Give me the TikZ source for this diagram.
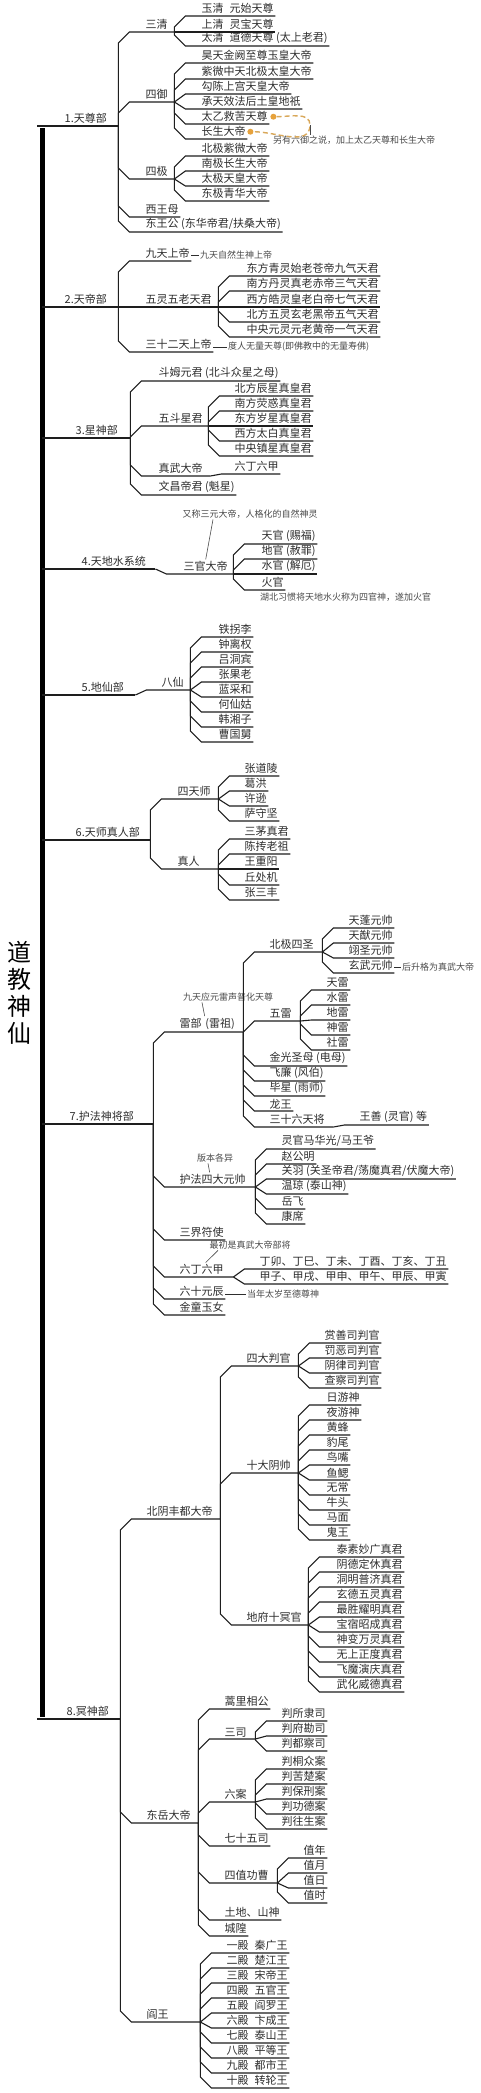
\documentclass[tikz,border=0pt]{standalone}
\usepackage{fontspec}
\setmainfont{Noto Sans CJK SC}
\usepackage{tikz}
\usetikzlibrary{calc}
\definecolor{InkGray}{HTML}{2E2E2E}
\definecolor{LineDark}{HTML}{1E1E1E}
\definecolor{NoteGray}{HTML}{4A4A4A}
\definecolor{DotOrange}{HTML}{E6A23C}
\definecolor{DashGold}{HTML}{D9A85A}

\begin{document}
\begin{tikzpicture}[x=1pt,y=-1pt,
item/.style={anchor=south west,inner xsep=1.5pt,inner ysep=2pt,font=\fontsize{11}{12}\selectfont,text=InkGray},
head/.style={item,text width=#1,align=left},
note/.style={inner sep=1pt,font=\fontsize{9}{10}\selectfont,text=NoteGray},
title/.style={align=center,inner sep=0pt,font=\fontsize{24}{27}\selectfont},
dot/.style={circle,fill=DotOrange,inner sep=0pt,minimum size=6pt},
link/.style={draw=LineDark,line width=1.1pt,to path={let \p1=(\tikztostart),\p2=(\tikztotarget),\n1={min(11,abs((\y2)-(\y1)))},\n2={(\y2)-sign((\y2)-(\y1))*\n1} in -- (\x1,{\n2*1pt}) -- ({\x1+11pt},\y2) -- (\tikztotarget)}},
pointer/.style={draw=NoteGray,line width=0.6pt},
dashlink/.style={draw=InkGray,line width=0.8pt},
goldline/.style={draw=DashGold,line width=1.4pt,dash pattern=on 5pt off 3pt},
spine/.style={draw=black,line width=4.5pt}
]
\path[use as bounding box,fill=white] (0,0) rectangle (480,2093);

% root and spine
\node[title] (root) at (20,993) {道\\教\\神\\仙};
\coordinate (top) at (42.5,128);
\coordinate (bot) at (42.5,1717);
\draw[spine] (top) -- (bot);
\coordinate (s1) at (37,126);
\coordinate (s2) at (42,307);
\coordinate (s3) at (42,438);
\coordinate (s4) at (42,569);
\coordinate (s5) at (42,695);
\coordinate (s6) at (42,840);
\coordinate (s7) at (42,1124);
\coordinate (s8) at (37,1719);

% 1
\node[head=52] (t1) at (63,126) {1.天尊部};
\node[head=27] (sq) at (144,32) {三清};
\node[item] (sq1) at (200,16) {玉清\hspace{6pt}元始天尊};
\node[item] (sq2) at (200,32) {上清\hspace{6pt}灵宝天尊};
\node[item] (sq3) at (200,46) {太清\hspace{6pt}道德天尊 (太上老君)};
\node[head=27] (sy) at (144,102) {四御};
\node[item] (sy1) at (200,63) {昊天金阙至尊玉皇大帝};
\node[item] (sy2) at (200,79) {紫微中天北极太皇大帝};
\node[item] (sy3) at (200,94) {勾陈上宫天皇大帝};
\node[item] (sy4) at (200,109) {承天效法后土皇地祇};
\node[item] (sy5) at (200,124) {太乙救苦天尊};
\node[item] (sy6) at (200,139) {长生大帝};
\node[dot] (d1) at ([xshift=4pt]sy5.east) {};
\node[dot] (d2) at ([xshift=3pt]sy6.east) {};
\coordinate (tip) at (310,125);
\node[note,anchor=west] (lyn) at (272,140) {另有六御之说，加上太乙天尊和长生大帝};
\node[head=27] (sj) at (144,179) {四极};
\node[item] (sj1) at (200,156) {北极紫微大帝};
\node[item] (sj2) at (200,171) {南极长生大帝};
\node[item] (sj3) at (200,186) {太极天皇大帝};
\node[item] (sj4) at (200,201) {东极青华大帝};
\node[item] (xwm) at (144,217) {西王母};
\node[item] (dwg) at (144,232) {东王公 (东华帝君/扶桑大帝)};
\draw[link] (s1) to (t1.south east);
\draw[link] (t1.south east) edge (sq.south east) edge (sy.south east) edge (sj.south east) edge (xwm.south east) edge (dwg.south east);
\draw[link] (sq.south east) edge (sq1.south east) edge (sq2.south east) edge (sq3.south east);
\draw[link] (sy.south east) edge (sy1.south east) edge (sy2.south east) edge (sy3.south east) edge (sy4.south east) edge (sy5.south east) edge (sy6.south east);
\draw[link] (sj.south east) edge (sj1.south east) edge (sj2.south east) edge (sj3.south east) edge (sj4.south east);
\draw[goldline] (d1) to[out=0,in=90] (tip) to[out=-90,in=0] (d2);
\draw[pointer] (tip) -- (tip |- lyn.north);

% 2
\node[head=52] (t2) at (63,307) {2.天帝部};
\node[item] (jt) at (144,261) {九天上帝};
\node[note,anchor=west] (jtn) at (199,255) {九天自然生神上帝};
\node[head=71] (wl) at (144,307) {五灵五老天君};
\node[item] (wl1) at (245,276) {东方青灵始老苍帝九气天君};
\node[item] (wl2) at (245,291) {南方丹灵真老赤帝三气天君};
\node[item] (wl3) at (245,307) {西方皓灵皇老白帝七气天君};
\node[item] (wl4) at (245,322) {北方五灵玄老黑帝五气天君};
\node[item] (wl5) at (245,337) {中央元灵元老黄帝一气天君};
\node[item] (s32) at (144,352) {三十二天上帝};
\node[note,anchor=west] (s32n) at (227,347) {度人无量天尊(即佛教中的无量寿佛)};
\draw[link] (s2) to (t2.south east);
\draw[link] (t2.south east) edge (jt.south east) edge (wl.south east) edge (s32.south east);
\draw[link] (wl.south east) edge (wl1.south east) edge (wl2.south east) edge (wl3.south east) edge (wl4.south east) edge (wl5.south east);
\draw[dashlink] (jt.south east |- jtn.west) -- (jtn.west);
\draw[dashlink] (s32.south east |- s32n.west) -- (s32n.west);

% 3
\node[head=53] (t3) at (74,438) {3.星神部};
\node[item] (dm) at (157,381) {斗姆元君 (北斗众星之母)};
\node[head=48] (wd) at (157,426) {五斗星君};
\node[item] (wd1) at (233,396) {北方辰星真皇君};
\node[item] (wd2) at (233,411) {南方荧惑真皇君};
\node[item] (wd3) at (233,426) {东方岁星真皇君};
\node[item] (wd4) at (233,441) {西方太白真皇君};
\node[item] (wd5) at (233,456) {中央镇星真皇君};
\node[head=50] (zw) at (157,476) {真武大帝};
\node[item] (zw1) at (233,474) {六丁六甲};
\node[item] (wc) at (157,495) {文昌帝君 (魁星)};
\draw[link] (s3) to (t3.south east);
\draw[link] (t3.south east) edge (dm.south east) edge (wd.south east) edge (zw.south east) edge (wc.south east);
\draw[link] (wd.south east) edge (wd1.south east) edge (wd2.south east) edge (wd3.south east) edge (wd4.south east) edge (wd5.south east);
\draw[link] (zw.south east) to (zw1.south east);

% 4
\node[note] (sgn) at (250,514) {又称三元大帝，人格化的自然神灵};
\node[head=72] (t4) at (80,569) {4.天地水系统};
\node[head=48] (sg) at (182,574) {三官大帝};
\node[item] (sg1) at (260,544) {天官 (赐福)};
\node[item] (sg2) at (260,559) {地官 (赦罪)};
\node[item] (sg3) at (260,574) {水官 (解厄)};
\node[item] (sg4) at (260,590) {火官};
\node[note,anchor=north west] (hbn) at (259,592) {湖北习惯将天地水火称为四官神，遂加火官};
\draw[link] (s4) to (t4.south east);
\draw[link] (t4.south east) to (sg.south east);
\draw[link] (sg.south east) edge (sg1.south east) edge (sg2.south east) edge (sg3.south east) edge (sg4.south east);
\draw[pointer] ([xshift=-37pt]sgn.south) -- ([xshift=-2pt]sg.north);

% 5
\node[head=52] (t5) at (80,695) {5.地仙部};
\node[head=27] (bx) at (160,690) {八仙};
\node[item] (bx1) at (217,637) {铁拐李};
\node[item] (bx2) at (217,652) {钟离权};
\node[item] (bx3) at (217,667) {吕洞宾};
\node[item] (bx4) at (217,682) {张果老};
\node[item] (bx5) at (217,697) {蓝采和};
\node[item] (bx6) at (217,712) {何仙姑};
\node[item] (bx7) at (217,727) {韩湘子};
\node[item] (bx8) at (217,742) {曹国舅};
\draw[link] (s5) to (t5.south east);
\draw[link] (t5.south east) to (bx.south east);
\draw[link] (bx.south east) edge (bx1.south east) edge (bx2.south east) edge (bx3.south east) edge (bx4.south east) edge (bx5.south east) edge (bx6.south east) edge (bx7.south east) edge (bx8.south east);

% 6
\node[head=73] (t6) at (74,840) {6.天师真人部};
\node[head=39] (st) at (176,799) {四天师};
\node[item] (st1) at (243,776) {张道陵};
\node[item] (st2) at (243,791) {葛洪};
\node[item] (st3) at (243,806) {许逊};
\node[item] (st4) at (243,821) {萨守坚};
\node[head=39] (zr) at (176,869) {真人};
\node[item] (zr1) at (243,839) {三茅真君};
\node[item] (zr2) at (243,854) {陈抟老祖};
\node[item] (zr3) at (243,869) {王重阳};
\node[item] (zr4) at (243,885) {丘处机};
\node[item] (zr5) at (243,900) {张三丰};
\draw[link] (s6) to (t6.south east);
\draw[link] (t6.south east) edge (st.south east) edge (zr.south east);
\draw[link] (st.south east) edge (st1.south east) edge (st2.south east) edge (st3.south east) edge (st4.south east);
\draw[link] (zr.south east) edge (zr1.south east) edge (zr2.south east) edge (zr3.south east) edge (zr4.south east) edge (zr5.south east);

% 7
\node[head=82] (t7) at (68,1124) {7.护法神将部};
\node[head=62] (lb) at (178,1032) {雷部 (雷祖)};
\node[note] (lbn) at (228,997) {九天应元雷声普化天尊};
\node[head=51] (bj) at (268,952) {北极四圣};
\node[item] (bj1) at (347,928) {天蓬元帅};
\node[item] (bj2) at (347,943) {天猷元帅};
\node[item] (bj3) at (347,958) {翊圣元帅};
\node[item] (bj4) at (347,973) {玄武元帅};
\node[note,anchor=west] (bjn) at (401,967) {后升格为真武大帝};
\node[head=29] (wlei) at (268,1021) {五雷};
\node[item] (wlei1) at (325,990) {天雷};
\node[item] (wlei2) at (325,1005) {水雷};
\node[item] (wlei3) at (325,1020) {地雷};
\node[item] (wlei4) at (325,1035) {神雷};
\node[item] (wlei5) at (325,1050) {社雷};
\node[item] (lb1) at (268,1066) {金光圣母 (电母)};
\node[item] (lb2) at (268,1081) {飞廉 (风伯)};
\node[item] (lb3) at (268,1096) {毕星 (雨师)};
\node[item] (lb4) at (268,1111) {龙王};
\node[head=62] (tj) at (268,1127) {三十六天将};
\node[item] (tj1) at (358,1125) {王善 (灵官) 等};
\node[note] (hfn) at (215,1158) {版本各异};
\node[head=74] (hf) at (178,1187) {护法四大元帅};
\node[item] (hf1) at (280,1149) {灵官马华光/马王爷};
\node[item] (hf2) at (280,1164) {赵公明};
\node[item] (hf3) at (280,1179) {关羽 (关圣帝君/荡魔真君/伏魔大帝)};
\node[item] (hf4) at (280,1194) {温琼 (泰山神)};
\node[item] (hf5) at (280,1209) {岳飞};
\node[item] (hf6) at (280,1224) {康席};
\node[item] (sjf) at (178,1240) {三界符使};
\node[note] (sjfn) at (250,1245) {最初是真武大帝部将};
\node[head=52] (ld) at (178,1277) {六丁六甲};
\node[item] (ld1) at (258,1269) {丁卯、丁巳、丁未、丁酉、丁亥、丁丑};
\node[item] (ld2) at (258,1284) {甲子、甲戌、甲申、甲午、甲辰、甲寅};
\node[item] (lsy) at (178,1299) {六十元辰};
\node[note,anchor=west] (lsyn) at (246,1294) {当年太岁至德尊神};
\node[item] (jtyn) at (178,1315) {金童玉女};
\draw[link] (s7) to (t7.south east);
\draw[link] (t7.south east) edge (lb.south east) edge (hf.south east) edge (sjf.south east) edge (ld.south east) edge (lsy.south east) edge (jtyn.south east);
\draw[link] (lb.south east) edge (bj.south east) edge (wlei.south east) edge (lb1.south east) edge (lb2.south east) edge (lb3.south east) edge (lb4.south east) edge (tj.south east);
\draw[link] (bj.south east) edge (bj1.south east) edge (bj2.south east) edge (bj3.south east) edge (bj4.south east);
\draw[link] (wlei.south east) edge (wlei1.south east) edge (wlei2.south east) edge (wlei3.south east) edge (wlei4.south east) edge (wlei5.south east);
\draw[link] (tj.south east) to (tj1.south east);
\draw[link] (hf.south east) edge (hf1.south east) edge (hf2.south east) edge (hf3.south east) edge (hf4.south east) edge (hf5.south east) edge (hf6.south east);
\draw[link] (ld.south east) edge (ld1.south east) edge (ld2.south east);
\draw[pointer] ([xshift=-26pt]lbn.south) -- ([xshift=-6pt]lb.north);
\draw[pointer] ([xshift=-7pt]hfn.south) -- ([xshift=-7pt]hf.north);
\draw[pointer] ([xshift=-32pt]sjfn.south) -- (ld.north);
\draw[dashlink] (bj4.south east |- bjn.west) -- (bjn.west);
\draw[dashlink] (lsy.south east |- lsyn.west) -- (lsyn.west);

% 8
\node[head=52] (t8) at (65,1719) {8.冥神部};
\node[head=72] (by) at (145,1519) {北阴丰都大帝};
\node[head=50] (sd) at (245,1366) {四大判官};
\node[item] (sd1) at (323,1343) {赏善司判官};
\node[item] (sd2) at (323,1358) {罚恶司判官};
\node[item] (sd3) at (323,1373) {阴律司判官};
\node[item] (sd4) at (323,1388) {查察司判官};
\node[head=50] (ss) at (245,1473) {十大阴帅};
\node[item] (ss1) at (325,1405) {日游神};
\node[item] (ss2) at (325,1420) {夜游神};
\node[item] (ss3) at (325,1435) {黄蜂};
\node[item] (ss4) at (325,1450) {豹尾};
\node[item] (ss5) at (325,1465) {鸟嘴};
\node[item] (ss6) at (325,1480) {鱼鳃};
\node[item] (ss7) at (325,1495) {无常};
\node[item] (ss8) at (325,1510) {牛头};
\node[item] (ss9) at (325,1525) {马面};
\node[item] (ss10) at (325,1540) {鬼王};
\node[head=60] (df) at (245,1625) {地府十冥官};
\node[item] (df1) at (335,1557) {泰素妙广真君};
\node[item] (df2) at (335,1572) {阴德定休真君};
\node[item] (df3) at (335,1587) {洞明普济真君};
\node[item] (df4) at (335,1602) {玄德五灵真君};
\node[item] (df5) at (335,1617) {最胜耀明真君};
\node[item] (df6) at (335,1632) {宝宿昭成真君};
\node[item] (df7) at (335,1647) {神变万灵真君};
\node[item] (df8) at (335,1662) {无上正度真君};
\node[item] (df9) at (335,1677) {飞魔演庆真君};
\node[item] (df10) at (335,1692) {武化威德真君};
\node[head=50] (dy) at (145,1823) {东岳大帝};
\node[item] (hl) at (223,1709) {蒿里相公};
\node[head=29] (ssi) at (223,1739) {三司};
\node[item] (ssi1) at (280,1721) {判所隶司};
\node[item] (ssi2) at (280,1736) {判府勘司};
\node[item] (ssi3) at (280,1751) {判都察司};
\node[head=29] (la) at (223,1802) {六案};
\node[item] (la1) at (280,1769) {判桐众案};
\node[item] (la2) at (280,1784) {判苦楚案};
\node[item] (la3) at (280,1799) {判保刑案};
\node[item] (la4) at (280,1814) {判功德案};
\node[item] (la5) at (280,1829) {判往生案};
\node[item] (qs) at (223,1846) {七十五司};
\node[head=51] (sz) at (223,1883) {四值功曹};
\node[item] (sz1) at (302,1858) {值年};
\node[item] (sz2) at (302,1873) {值月};
\node[item] (sz3) at (302,1888) {值日};
\node[item] (sz4) at (302,1903) {值时};
\node[item] (td) at (223,1920) {土地、山神};
\node[item] (ch) at (223,1936) {城隍};
\node[head=52] (yw) at (145,2022) {阎王};
\node[item] (yw1) at (225,1953) {一殿\hspace{6pt}秦广王};
\node[item] (yw2) at (225,1968) {二殿\hspace{6pt}楚江王};
\node[item] (yw3) at (225,1983) {三殿\hspace{6pt}宋帝王};
\node[item] (yw4) at (225,1998) {四殿\hspace{6pt}五官王};
\node[item] (yw5) at (225,2013) {五殿\hspace{6pt}阎罗王};
\node[item] (yw6) at (225,2028) {六殿\hspace{6pt}卞成王};
\node[item] (yw7) at (225,2043) {七殿\hspace{6pt}泰山王};
\node[item] (yw8) at (225,2058) {八殿\hspace{6pt}平等王};
\node[item] (yw9) at (225,2073) {九殿\hspace{6pt}都市王};
\node[item] (yw10) at (225,2088) {十殿\hspace{6pt}转轮王};
\draw[link] (s8) to (t8.south east);
\draw[link] (t8.south east) edge (by.south east) edge (dy.south east) edge (yw.south east);
\draw[link] (by.south east) edge (sd.south east) edge (ss.south east) edge (df.south east);
\draw[link] (sd.south east) edge (sd1.south east) edge (sd2.south east) edge (sd3.south east) edge (sd4.south east);
\draw[link] (ss.south east) edge (ss1.south east) edge (ss2.south east) edge (ss3.south east) edge (ss4.south east) edge (ss5.south east) edge (ss6.south east) edge (ss7.south east) edge (ss8.south east) edge (ss9.south east) edge (ss10.south east);
\draw[link] (df.south east) edge (df1.south east) edge (df2.south east) edge (df3.south east) edge (df4.south east) edge (df5.south east) edge (df6.south east) edge (df7.south east) edge (df8.south east) edge (df9.south east) edge (df10.south east);
\draw[link] (dy.south east) edge (hl.south east) edge (ssi.south east) edge (la.south east) edge (qs.south east) edge (sz.south east) edge (td.south east) edge (ch.south east);
\draw[link] (ssi.south east) edge (ssi1.south east) edge (ssi2.south east) edge (ssi3.south east);
\draw[link] (la.south east) edge (la1.south east) edge (la2.south east) edge (la3.south east) edge (la4.south east) edge (la5.south east);
\draw[link] (sz.south east) edge (sz1.south east) edge (sz2.south east) edge (sz3.south east) edge (sz4.south east);
\draw[link] (yw.south east) edge (yw1.south east) edge (yw2.south east) edge (yw3.south east) edge (yw4.south east) edge (yw5.south east) edge (yw6.south east) edge (yw7.south east) edge (yw8.south east) edge (yw9.south east) edge (yw10.south east);
\end{tikzpicture}
\end{document}
